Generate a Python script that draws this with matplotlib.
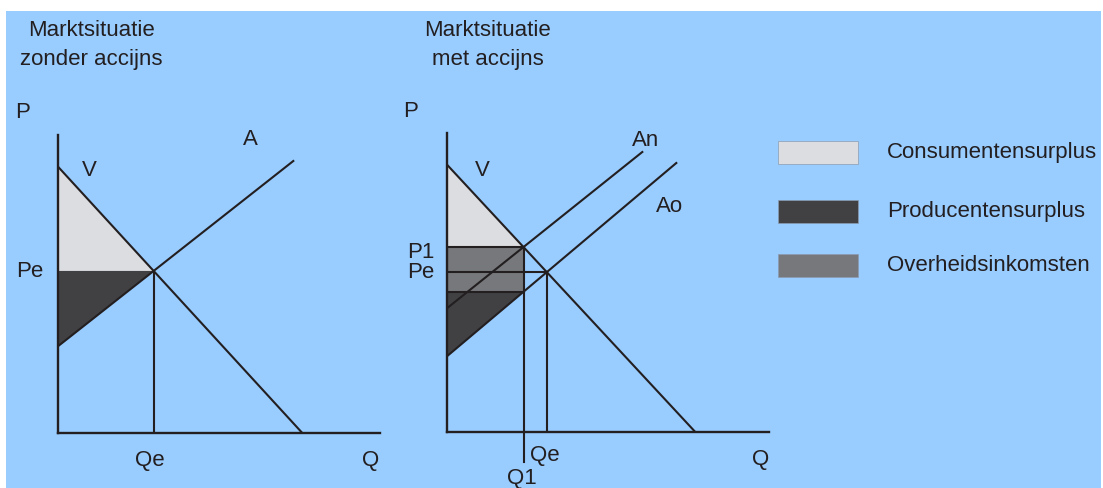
import matplotlib
matplotlib.use("Agg")
import matplotlib.pyplot as plt
from matplotlib.patches import Rectangle, Polygon
import numpy as np

plt.rcParams['font.family'] = ['Liberation Sans', 'DejaVu Sans']

# ---------------- data ----------------
titles = [["Marktsituatie", "zonder accijns"], ["Marktsituatie", "met accijns"]]

# left panel (zonder accijns)
left_demand_q = [0, 244]
left_demand_p = [266, 0]
left_supply_q = [0, 235]
left_supply_p = [87, 272]

# right panel (met accijns)
right_demand_q = [0, 248]
right_demand_p = [267, 0]
right_supply_old_q = [0, 229]   # Ao
right_supply_old_p = [76, 269]
right_supply_new_q = [0, 195]   # An
right_supply_new_p = [124, 280]

legend_labels = ["Consumentensurplus", "Producentensurplus", "Overheidsinkomsten"]
legend_colors = ["#DCDDE0", "#414143", "#77787B"]

BG = "#99CCFF"
INK = "#231F20"
FS = 16
W, H = 1103, 489


def line_params(q, p):
    slope = (p[1] - p[0]) / (q[1] - q[0])
    return p[0], slope


def intersect(q1, p1, q2, p2):
    a1, b1 = line_params(q1, p1)
    a2, b2 = line_params(q2, p2)
    q = (a2 - a1) / (b1 - b2)
    return q, a1 + b1 * q


fig = plt.figure(figsize=(W / 100, H / 100), dpi=100)
fig.patch.set_facecolor("white")

bg = fig.add_axes([0, 0, 1, 1])
bg.set_xlim(0, W)
bg.set_ylim(H, 0)
bg.axis("off")
bg.add_patch(Rectangle((6, 12), 1095, 480, facecolor=BG, edgecolor="none"))

# titles
for cx, lines in zip([91, 488], titles):
    bg.text(cx, 31, lines[0], fontsize=FS, color=INK, ha="center", va="center")
    bg.text(cx, 59, lines[1], fontsize=FS, color=INK, ha="center", va="center")

# legend
leg_y = [142, 201, 255]
for y, lab, col in zip(leg_y, legend_labels, legend_colors):
    bg.add_patch(Rectangle((778, y), 80, 23, facecolor=col, edgecolor="#8A9BB0", lw=0.5))
    bg.text(887, y + 10.5, lab, fontsize=FS, color=INK, ha="left", va="center")


def make_axes(ox, oy, w, h):
    ax = fig.add_axes([ox / W, (H - oy) / H, w / W, h / H])
    ax.set_xlim(0, w)
    ax.set_ylim(0, h)
    ax.patch.set_alpha(0)
    for s in ["top", "right"]:
        ax.spines[s].set_visible(False)
    for s in ["left", "bottom"]:
        ax.spines[s].set_color(INK)
        ax.spines[s].set_linewidth(1.7)
    ax.set_xticks([])
    ax.set_yticks([])
    return ax


LW = 1.5

# ---------------- left panel ----------------
axL = make_axes(58.3, 434, 322, 298)
Qe, Pe = intersect(left_demand_q, left_demand_p, left_supply_q, left_supply_p)
axL.add_patch(Polygon([(0, left_demand_p[0]), (0, Pe), (Qe, Pe)], closed=True,
                      facecolor=legend_colors[0], edgecolor="none"))
axL.add_patch(Polygon([(0, Pe), (0, left_supply_p[0]), (Qe, Pe)], closed=True,
                      facecolor=legend_colors[1], edgecolor="none"))
axL.plot(left_demand_q, left_demand_p, color=INK, lw=LW)
axL.plot(left_supply_q, left_supply_p, color=INK, lw=LW)
axL.plot([Qe, Qe], [0, Pe], color=INK, lw=LW)

axL.text(-35.6, 321.5, "P", fontsize=FS, color=INK, ha="center", va="center", clip_on=False)
axL.text(-29, Pe, "Pe", fontsize=FS, color=INK, ha="center", va="center", clip_on=False)
axL.text(31, 264, "V", fontsize=FS, color=INK, ha="center", va="center", clip_on=False)
axL.text(192.4, 294.7, "A", fontsize=FS, color=INK, ha="center", va="center", clip_on=False)
axL.text(Qe - 4, -26.7, "Qe", fontsize=FS, color=INK, ha="center", va="center", clip_on=False)
axL.text(312.4, -26.7, "Q", fontsize=FS, color=INK, ha="center", va="center", clip_on=False)

# ---------------- right panel ----------------
axR = make_axes(447.3, 433, 322, 299)
Qe2, Pe2 = intersect(right_demand_q, right_demand_p, right_supply_old_q, right_supply_old_p)
Q1, P1 = intersect(right_demand_q, right_demand_p, right_supply_new_q, right_supply_new_p)
a_o, b_o = line_params(right_supply_old_q, right_supply_old_p)
Plow = a_o + b_o * Q1

axR.add_patch(Polygon([(0, right_demand_p[0]), (0, P1), (Q1, P1)], closed=True,
                      facecolor=legend_colors[0], edgecolor="none"))
axR.add_patch(Polygon([(0, Plow), (0, P1), (Q1, P1), (Q1, Plow)], closed=True,
                      facecolor=legend_colors[2], edgecolor="none"))
axR.add_patch(Polygon([(0, Plow), (0, right_supply_old_p[0]), (Q1, Plow)], closed=True,
                      facecolor=legend_colors[1], edgecolor="none"))
axR.plot(right_demand_q, right_demand_p, color=INK, lw=LW)
axR.plot(right_supply_old_q, right_supply_old_p, color=INK, lw=LW)
axR.plot(right_supply_new_q, right_supply_new_p, color=INK, lw=LW)
axR.plot([0, Q1], [P1, P1], color=INK, lw=LW)
axR.plot([0, Q1], [Plow, Plow], color=INK, lw=LW)
axR.plot([0, Qe2], [Pe2, Pe2], color=INK, lw=LW)
axR.plot([Qe2, Qe2], [0, Pe2], color=INK, lw=LW)
axR.plot([Q1, Q1], [-30, P1], color=INK, lw=LW, clip_on=False)

axR.text(-36.6, 321.5, "P", fontsize=FS, color=INK, ha="center", va="center", clip_on=False)
axR.text(35, 263, "V", fontsize=FS, color=INK, ha="center", va="center", clip_on=False)
axR.text(198.4, 293, "An", fontsize=FS, color=INK, ha="center", va="center", clip_on=False)
axR.text(222, 226.3, "Ao", fontsize=FS, color=INK, ha="center", va="center", clip_on=False)
axR.text(-26.6, P1 - 4, "P1", fontsize=FS, color=INK, ha="center", va="center", clip_on=False)
axR.text(-26.6, Pe2 + 1, "Pe", fontsize=FS, color=INK, ha="center", va="center", clip_on=False)
axR.text(Qe2 - 2, -22.7, "Qe", fontsize=FS, color=INK, ha="center", va="center", clip_on=False)
axR.text(Q1 - 2, -46, "Q1", fontsize=FS, color=INK, ha="center", va="center", clip_on=False)
axR.text(313.4, -27, "Q", fontsize=FS, color=INK, ha="center", va="center", clip_on=False)

fig.savefig("out.png", dpi=100, facecolor=fig.get_facecolor())
